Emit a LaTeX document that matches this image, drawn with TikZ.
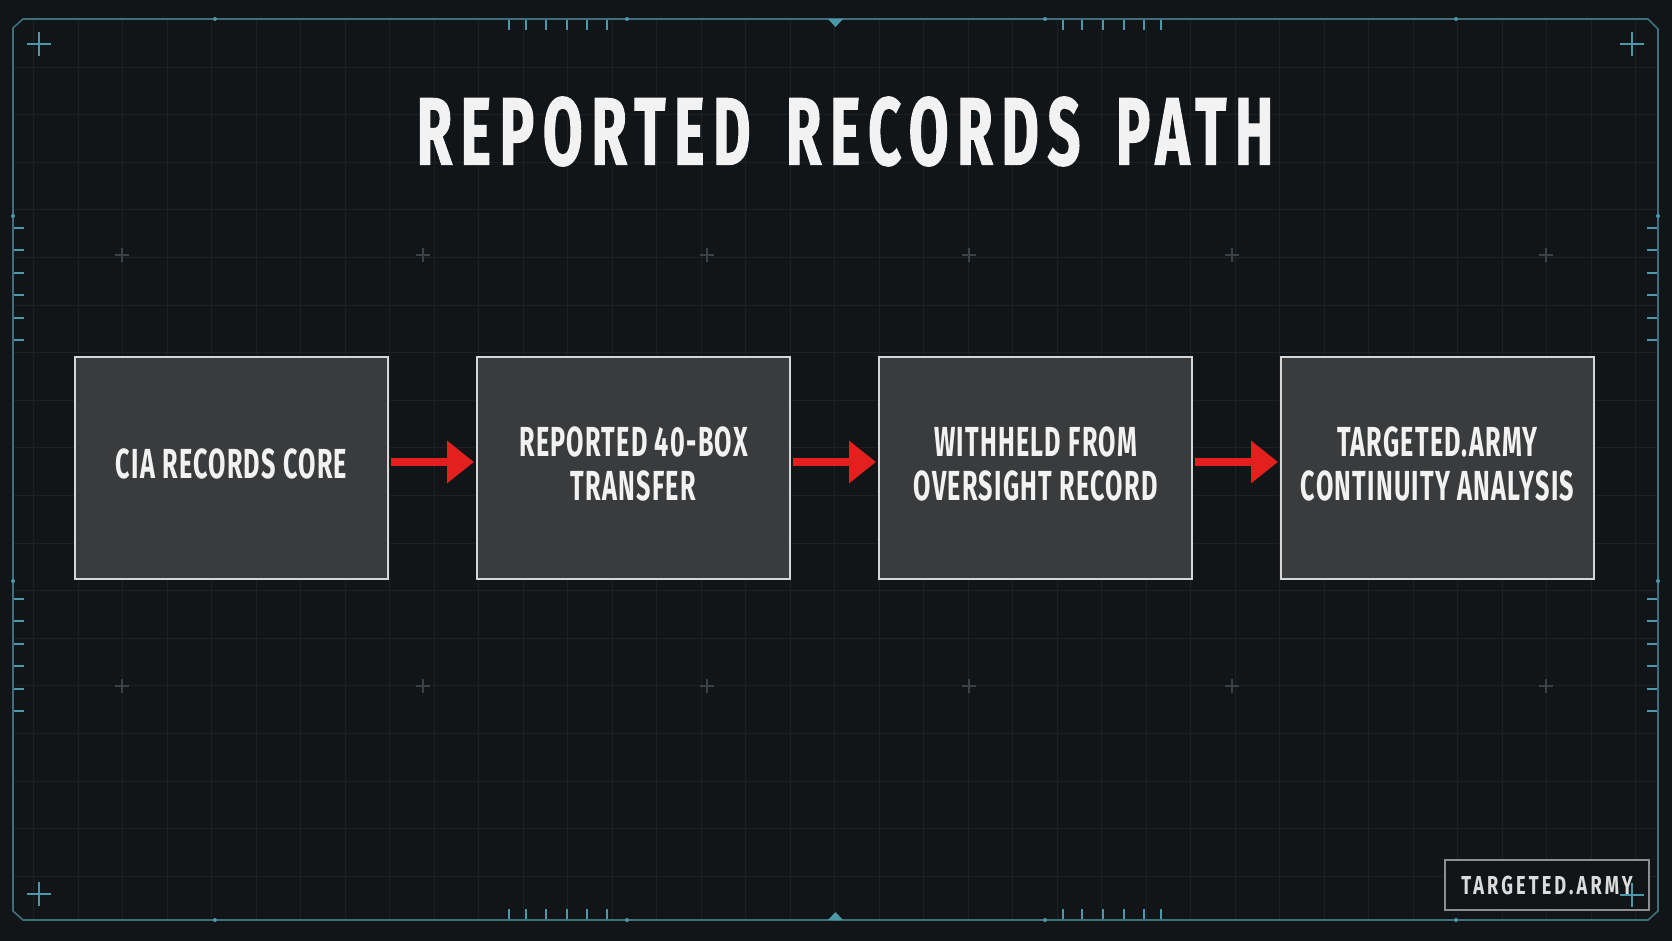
\documentclass[tikz,border=0pt]{standalone}
\usepackage{fontspec}
\usetikzlibrary{arrows.meta}
\newfontfamily\titlefont{Fira Sans}[FakeStretch=0.6,LetterSpace=9,FakeBold=1]
\newfontfamily\boxfont{Fira Sans}[FakeStretch=0.6,LetterSpace=3]
\newfontfamily\markfont{Fira Sans}[FakeStretch=0.7,LetterSpace=12]
\definecolor{bgc}{HTML}{121518}
\definecolor{gridc}{HTML}{1B2125}
\definecolor{framec}{HTML}{3E6F7C}
\definecolor{tickc}{HTML}{4B98AA}
\definecolor{crossc}{HTML}{3A4248}
\definecolor{boxfill}{HTML}{3A3B3C}
\definecolor{boxline}{HTML}{D6D6D6}
\definecolor{arrowc}{HTML}{E3201E}
\definecolor{textc}{HTML}{F2F2F2}
\definecolor{marktext}{HTML}{DCDCDC}
\definecolor{markline}{HTML}{8E8E8E}
\tikzset{
  stepbox/.style={draw=boxline, line width=1pt, fill=boxfill, minimum width=156.5pt, minimum height=111pt, inner sep=0pt, text depth=4.3pt, text=textc, align=center, font=\boxfont\bfseries\fontsize{21}{22}\selectfont},
  flowarrow/.style={draw=arrowc, line width=4pt, -{Triangle[length=13.5pt, width=20.5pt]}, arrowc, shorten <=1pt, shorten >=1pt},
  tickmark/.style={draw=tickc, line width=1pt},
  bigcross/.style={draw=tickc, line width=0.8pt},
  smallcross/.style={draw=crossc, line width=0.6pt},
  framedot/.style={fill=tickc, circle, inner sep=0pt, minimum size=2pt}
}
\begin{document}
\begin{tikzpicture}[x=0.5pt, y=-0.5pt]
\useasboundingbox (0,0) rectangle (1672,941);
\fill[bgc] (0,0) rectangle (1672,941);
% grid
\foreach \gx in {0,...,37} {\draw[gridc, line width=0.4pt] ({33.5+44.5*\gx},19) -- ({33.5+44.5*\gx},920);}
\foreach \gy in {0,...,17} {\draw[gridc, line width=0.4pt] (13,{67+47.6*\gy}) -- (1658,{67+47.6*\gy});}
% frame
\draw[framec, line width=0.8pt] (23,19) -- (1648,19) -- (1658,29) -- (1658,911) -- (1648,920) -- (23,920) -- (13,911) -- (13,28) -- cycle;
% side ticks
\foreach \ty in {228,250.5,273,295.5,318,340.5,598.5,621,643.5,666,688.5,711} {
  \draw[tickmark] (14,\ty) -- (24,\ty);
  \draw[tickmark] (1647,\ty) -- (1657,\ty);
}
% top and bottom ticks
\foreach \tx in {509,526,546,567,587,607,1063,1082,1103,1124,1144,1161} {
  \draw[tickmark] (\tx,20) -- (\tx,30);
  \draw[tickmark] (\tx,909) -- (\tx,919);
}
% frame dots
\foreach \dx in {215,627,1045,1456} {\node[framedot] at (\dx,19) {}; \node[framedot] at (\dx,920) {};}
\node[framedot] at (13,216) {}; \node[framedot] at (13,581) {};
\node[framedot] at (1658,216) {}; \node[framedot] at (1658,581) {};
% triangles
\fill[tickc] (828,19) -- (843,19) -- (835.5,27) -- cycle;
\fill[tickc] (828,920) -- (843,920) -- (835.5,912) -- cycle;
% corner crosses
\foreach \cx/\cy in {39/44,1632/44,39/894} {
  \draw[bigcross] (\cx-12,\cy) -- (\cx+12,\cy);
  \draw[bigcross] (\cx,\cy-12) -- (\cx,\cy+12);
}
% small crosses
\foreach \cx in {122,423,707,969,1232,1546} {
  \foreach \cy in {255,686} {
    \draw[smallcross] (\cx-7,\cy) -- (\cx+7,\cy);
    \draw[smallcross] (\cx,\cy-7) -- (\cx,\cy+7);
  }
}
% title
\node[text=textc, inner sep=0pt, font=\titlefont\bfseries\fontsize{48}{52}\selectfont] (title) at (845,131.5) {REPORTED\hspace{6.5pt} RECORDS\hspace{6.5pt} PATH};
% boxes
\node[stepbox] (b1) at (231.5,468) {CIA RECORDS CORE};
\node[stepbox] (b2) at (633.5,468) {REPORTED 40-BOX\\TRANSFER};
\node[stepbox] (b3) at (1035.5,468) {WITHHELD FROM\\OVERSIGHT RECORD};
\node[stepbox] (b4) at (1437.5,468) {TARGETED.ARMY\\CONTINUITY ANALYSIS};
% arrows
\draw[flowarrow] ([yshift=3pt]b1.east) -- ([yshift=3pt]b2.west);
\draw[flowarrow] ([yshift=3pt]b2.east) -- ([yshift=3pt]b3.west);
\draw[flowarrow] ([yshift=3pt]b3.east) -- ([yshift=3pt]b4.west);
% watermark
\node[draw=markline, line width=1pt, fill=bgc, minimum width=102pt, minimum height=25pt, inner sep=0pt, text=marktext, font=\markfont\bfseries\fontsize{13}{14}\selectfont] (mark) at (1547,885) {TARGETED.ARMY};
\draw[bigcross] (1620,895) -- (1644,895);
\draw[bigcross] (1632,883) -- (1632,907);
\end{tikzpicture}
\end{document}
